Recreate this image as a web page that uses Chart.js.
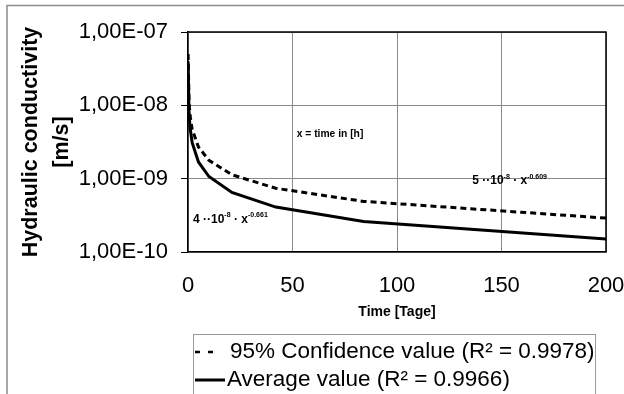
<!DOCTYPE html>
<html>
<head>
<meta charset="utf-8">
<script src="https://cdn.jsdelivr.net/npm/chart.js@4.4.0/dist/chart.umd.min.js"></script>
<style>
  body { margin: 0; background: #fff; }
  #wrap { width: 624px; height: 394px; }
</style>
</head>
<body>
<div id="wrap"><canvas id="conductivityGraph" width="624" height="394"></canvas></div>
<script>
// time in days
var timeDays = [0.042, 0.5, 1, 2, 5, 10, 21, 42, 84, 200];
// hydraulic conductivity in m/s
var confidenceValues = [5.0e-8, 1.1e-8, 7.2e-9, 4.7e-9, 2.7e-9, 1.78e-9, 1.13e-9, 7.4e-10, 4.9e-10, 2.9e-10];
var averageValues = [4.0e-8, 7.7e-9, 4.9e-9, 3.1e-9, 1.69e-9, 1.07e-9, 6.5e-10, 4.1e-10, 2.6e-10, 1.5e-10];

var yTickValues = [1e-10, 1e-9, 1e-8, 1e-7];
var yTickLabels = ['1,00E-10', '1,00E-09', '1,00E-08', '1,00E-07'];
var seriesLabels = ['95% Confidence value (R\u00b2 = 0.9978)', 'Average value (R\u00b2 = 0.9966)'];

var fontFamily = "'Liberation Sans', Arial, sans-serif";
Chart.defaults.font.family = fontFamily;
Chart.defaults.color = '#000';

function toPoints(values) {
    return timeDays.map(function(t, i) { return { x: t, y: values[i] }; });
}

// writes text with superscript parts, parts = [[text, isSup], ...]
function drawFormula(c, x, y, parts) {
    parts.forEach(function(p) {
        c.font = p[1] ? 'bold 7px ' + fontFamily : 'bold 12px ' + fontFamily;
        c.fillText(p[0], x, p[1] ? y - 4 : y);
        x += c.measureText(p[0]).width;
    });
}

const frame = {
    id: 'frame',
    beforeDraw(chart) {
        const c = chart.ctx;
        c.save();
        c.fillStyle = '#fff';
        c.fillRect(0, 0, chart.width, chart.height);
        c.strokeStyle = '#8c8c8c';
        c.lineWidth = 1.5;
        c.beginPath();
        c.moveTo(7, chart.height);
        c.lineTo(7, 5.5);
        c.lineTo(chart.width, 5.5);
        c.stroke();
        c.restore();
    },
    afterDraw(chart) {
        const a = chart.chartArea, c = chart.ctx;
        c.save();
        c.strokeStyle = '#000';
        c.lineWidth = 1.5;
        c.beginPath();
        c.moveTo(a.left, a.top);
        c.lineTo(a.right, a.top);
        c.lineTo(a.right, a.bottom);
        c.stroke();
        c.restore();
    }
};

const notes = {
    id: 'notes',
    afterDatasetsDraw(chart) {
        const c = chart.ctx, xs = chart.scales.x, ys = chart.scales.y;
        c.save();
        c.fillStyle = '#000';
        c.textBaseline = 'middle';
        c.textAlign = 'left';
        c.font = 'bold 10.3px ' + fontFamily;
        c.fillText('x = time in [h]', xs.getPixelForValue(52), ys.getPixelForValue(4.0e-9));
        drawFormula(c, xs.getPixelForValue(136), ys.getPixelForValue(9.3e-10),
            [['5 \u00b7\u00b710', false], ['-8', true], [' \u00b7 x', false], ['-0.609', true]]);
        drawFormula(c, xs.getPixelForValue(2.4), ys.getPixelForValue(2.8e-10),
            [['4 \u00b7\u00b710', false], ['-8', true], [' \u00b7 x', false], ['-0.661', true]]);
        c.restore();
    }
};

const legendBox = {
    id: 'legendBox',
    afterDraw(chart) {
        const c = chart.ctx;
        const left = 193, top = chart.chartArea.bottom + 82;
        c.save();
        c.strokeStyle = '#999';
        c.lineWidth = 1;
        c.strokeRect(left + 0.5, top + 0.5, 402, 60);
        c.strokeStyle = '#000';
        c.lineWidth = 2.5;
        c.beginPath();
        c.moveTo(195, top + 18); c.lineTo(200, top + 18);
        c.moveTo(208, top + 18); c.lineTo(213, top + 18);
        c.stroke();
        c.lineWidth = 3;
        c.beginPath();
        c.moveTo(195, top + 46); c.lineTo(225, top + 46);
        c.stroke();
        c.fillStyle = '#000';
        c.font = '22.5px ' + fontFamily;
        c.textBaseline = 'middle';
        c.fillText(seriesLabels[0], 230, top + 18);
        c.fillText(seriesLabels[1], 227, top + 46);
        c.restore();
    }
};

const conductivityChart = new Chart(document.getElementById('conductivityGraph'), {
    type: 'line',
    data: {
        datasets: [{
            label: seriesLabels[0],
            data: toPoints(confidenceValues),
            borderColor: '#000',
            borderWidth: 3,
            borderDash: [6, 4],
            pointRadius: 0,
            tension: 0,
            fill: false
        }, {
            label: seriesLabels[1],
            data: toPoints(averageValues),
            borderColor: '#000',
            borderWidth: 3,
            pointRadius: 0,
            tension: 0,
            fill: false
        }]
    },
    options: {
        responsive: false,
        animation: false,
        layout: {
            padding: { left: 0, top: 32, right: 18, bottom: 70 }
        },
        plugins: {
            legend: { display: false },
            tooltip: { enabled: false }
        },
        scales: {
            x: {
                type: 'linear',
                min: 0,
                max: 200,
                ticks: {
                    stepSize: 50,
                    maxRotation: 0,
                    color: '#000',
                    font: { size: 22 },
                    padding: 21
                },
                grid: { color: '#8a8a8a', lineWidth: 1, drawTicks: false },
                border: { color: '#000', width: 1.5 },
                title: {
                    display: true,
                    text: 'Time [Tage]',
                    color: '#000',
                    font: { size: 14, weight: 'bold' },
                    padding: { top: 0, bottom: 3 }
                },
                afterFit: function(scale) {
                    scale.height = 72;
                    scale.paddingLeft = 0;
                    scale.paddingRight = 0;
                }
            },
            y: {
                type: 'logarithmic',
                min: 1e-10,
                max: 1e-7,
                afterBuildTicks: function(scale) {
                    scale.ticks = yTickValues.map(function(v) { return { value: v }; });
                },
                ticks: {
                    callback: function(value) {
                        return yTickLabels[yTickValues.indexOf(value)];
                    },
                    color: '#000',
                    font: { size: 22 },
                    padding: 13
                },
                grid: { color: '#8a8a8a', lineWidth: 1, tickLength: 7, tickColor: '#000' },
                border: { color: '#000', width: 1.5 },
                title: {
                    display: true,
                    text: ['Hydraulic conductivity', '[m/s]'],
                    color: '#000',
                    font: { size: 21.5, weight: 'bold', lineHeight: 1.45 },
                    padding: { top: 15, bottom: 0 }
                },
                afterFit: function(scale) { scale.width = 188; }
            }
        }
    },
    plugins: [frame, notes, legendBox]
});
</script>
</body>
</html>
